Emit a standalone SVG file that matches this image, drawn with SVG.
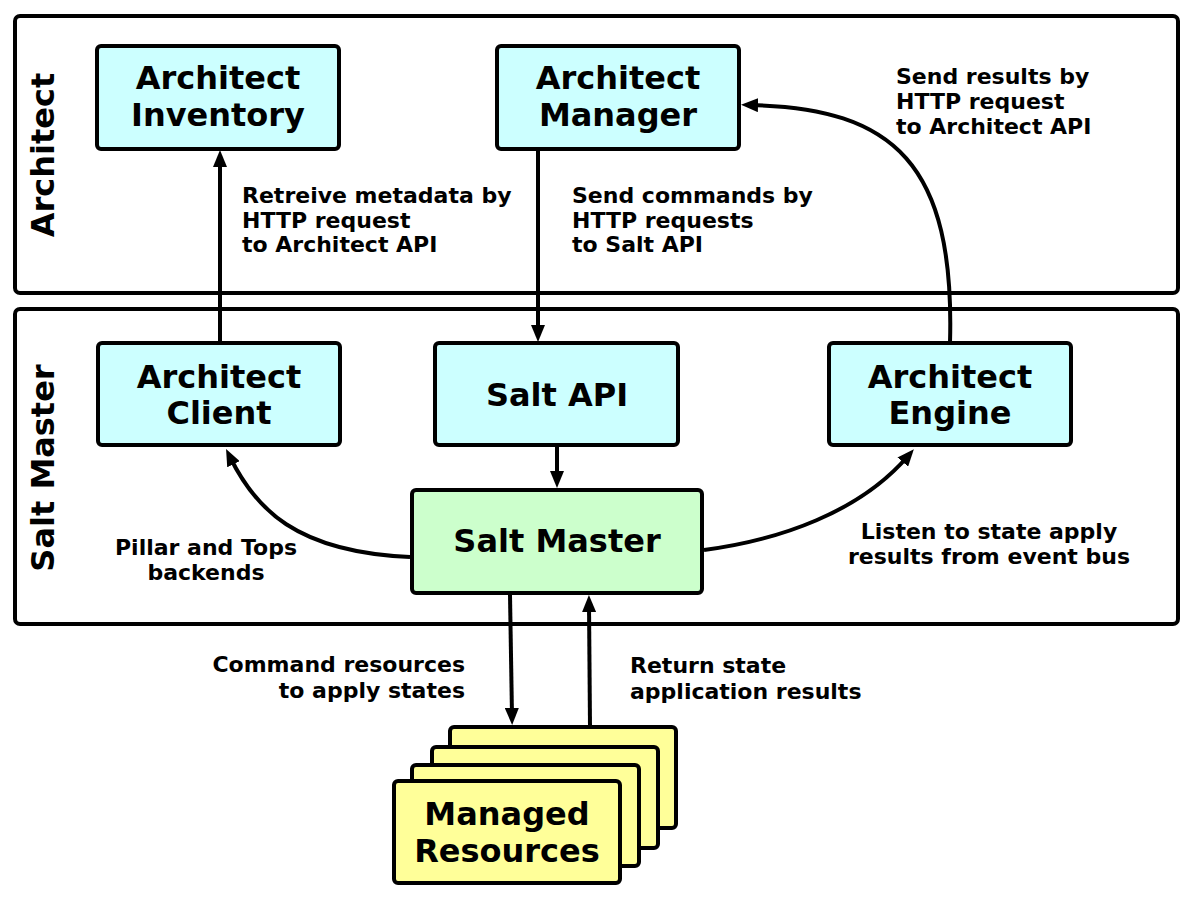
<svg xmlns="http://www.w3.org/2000/svg" width="1194" height="900" viewBox="0 0 1194 900">
<defs>
<style>
.container{fill:#ffffff;stroke:#000;stroke-width:4}
.box{stroke:#000;stroke-width:4}
.cyan{fill:#ccffff}
.green{fill:#ccffcc}
.yellow{fill:#ffff99}
.t{font-family:"DejaVu Sans","Liberation Sans",sans-serif;font-weight:bold;fill:#000}
.big{font-size:32px;text-anchor:middle}
.lbl{font-size:22px}
.conn{fill:none;stroke:#000;stroke-width:4}
</style>
<marker id="arr" markerUnits="userSpaceOnUse" markerWidth="18" markerHeight="14" refX="8" refY="7" orient="auto">
<path d="M0,0 L17,7 L0,14 z" fill="#000"/>
</marker>
</defs>
<rect width="1194" height="900" fill="#ffffff"/>
<g id="architect-container">
<rect class="container" x="15" y="16" width="1163" height="277" rx="5"/>
<text class="t big" transform="translate(54,155) rotate(-90)">Architect</text>
</g>
<g id="saltmaster-container">
<rect class="container" x="15" y="309" width="1163" height="315" rx="5"/>
<text class="t big" transform="translate(54,468) rotate(-90)">Salt Master</text>
</g>
<g id="connectors">
<path class="conn" d="M220 343 L220 159" marker-end="url(#arr)"/>
<path class="conn" d="M538 150 L538 333" marker-end="url(#arr)"/>
<path class="conn" d="M557 446 L557 479" marker-end="url(#arr)"/>
<path class="conn" d="M950 343 C955 165 895 108 750 105" marker-end="url(#arr)"/>
<path class="conn" d="M410 557 C295 552 255 508 230 457" marker-end="url(#arr)"/>
<path class="conn" d="M704 550 C780 540 860 512 908 456" marker-end="url(#arr)"/>
<path class="conn" d="M510 595 L512 716" marker-end="url(#arr)"/>
<path class="conn" d="M590 727 L589 604" marker-end="url(#arr)"/>
</g>
<g id="node-inventory">
<rect class="box cyan" x="97" y="46" width="242" height="103" rx="4"/>
<text class="t big" x="218" y="89">Architect</text>
<text class="t big" x="218" y="126">Inventory</text>
</g>
<g id="node-manager">
<rect class="box cyan" x="497" y="46" width="242" height="103" rx="4"/>
<text class="t big" x="618" y="89">Architect</text>
<text class="t big" x="618" y="126">Manager</text>
</g>
<g id="node-client">
<rect class="box cyan" x="98" y="343" width="242" height="102" rx="4"/>
<text class="t big" x="219" y="388">Architect</text>
<text class="t big" x="219" y="424">Client</text>
</g>
<g id="node-saltapi">
<rect class="box cyan" x="435" y="343" width="243" height="102" rx="4"/>
<text class="t big" x="557" y="406">Salt API</text>
</g>
<g id="node-engine">
<rect class="box cyan" x="829" y="343" width="242" height="102" rx="4"/>
<text class="t big" x="950" y="388">Architect</text>
<text class="t big" x="950" y="424">Engine</text>
</g>
<g id="node-saltmaster">
<rect class="box green" x="412" y="490" width="290" height="103" rx="4"/>
<text class="t big" x="557" y="552">Salt Master</text>
</g>
<g id="node-managed">
<rect class="box yellow" x="450" y="727" width="226" height="101" rx="4"/>
<rect class="box yellow" x="432" y="747" width="226" height="101" rx="4"/>
<rect class="box yellow" x="412" y="765" width="227" height="101" rx="4"/>
<rect class="box yellow" x="394" y="781" width="226" height="102" rx="4"/>
<text class="t big" x="507" y="825">Managed</text>
<text class="t big" x="507" y="862">Resources</text>
</g>
<g id="labels">
<text class="t lbl" x="242" y="203">Retreive metadata by</text>
<text class="t lbl" x="242" y="227.5">HTTP request</text>
<text class="t lbl" x="242" y="252">to Architect API</text>
<text class="t lbl" x="572" y="203">Send commands by</text>
<text class="t lbl" x="572" y="227.5">HTTP requests</text>
<text class="t lbl" x="572" y="252">to Salt API</text>
<text class="t lbl" x="896" y="84">Send results by</text>
<text class="t lbl" x="896" y="109">HTTP request</text>
<text class="t lbl" x="896" y="134">to Architect API</text>
<text class="t lbl" x="206" y="555" text-anchor="middle">Pillar and Tops</text>
<text class="t lbl" x="206" y="580" text-anchor="middle">backends</text>
<text class="t lbl" x="989" y="539" text-anchor="middle">Listen to state apply</text>
<text class="t lbl" x="989" y="564" text-anchor="middle">results from event bus</text>
<text class="t lbl" x="465" y="672" text-anchor="end">Command resources</text>
<text class="t lbl" x="465" y="698" text-anchor="end">to apply states</text>
<text class="t lbl" x="630" y="673">Return state</text>
<text class="t lbl" x="630" y="699">application results</text>
</g>
</svg>
